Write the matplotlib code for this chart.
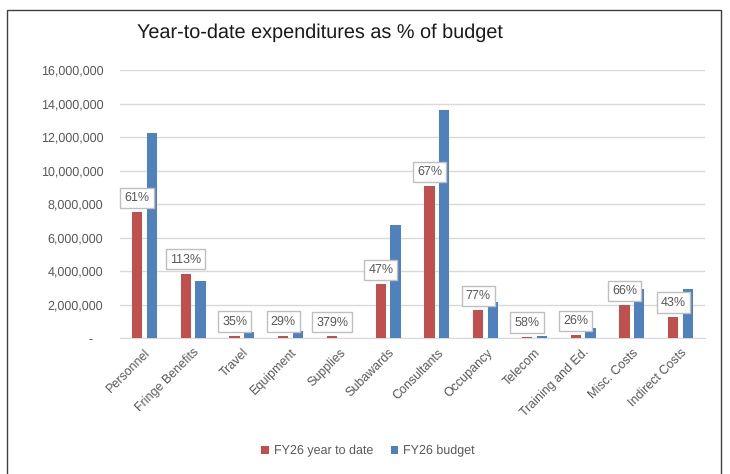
import matplotlib
matplotlib.use("Agg")
import matplotlib.pyplot as plt
from matplotlib.patches import Rectangle
from matplotlib.ticker import FuncFormatter, MultipleLocator
import numpy as np

categories = ["Personnel", "Fringe Benefits", "Travel", "Equipment", "Supplies",
              "Subawards", "Consultants", "Occupancy", "Telecom",
              "Training and Ed.", "Misc. Costs", "Indirect Costs"]
ytd = [7500000, 3850000, 120000, 120000, 90000, 3200000, 9060000, 1650000,
       70000, 160000, 1950000, 1250000]
budget = [12250000, 3400000, 340000, 420000, 24000, 6750000, 13600000, 2130000,
          120000, 600000, 2950000, 2900000]
pct_labels = ["61%", "113%", "35%", "29%", "379%", "47%", "67%", "77%",
              "58%", "26%", "66%", "43%"]

RED = "#C0504D"
BLUE = "#4F81BD"
GRID = "#D9D9D9"
TXT = "#595959"

plt.rcParams['font.family'] = ['Liberation Sans', 'DejaVu Sans']
plt.rcParams['text.hinting'] = 'no_hinting'

fig = plt.figure(figsize=(7.30, 4.74), dpi=100)
ax = fig.add_axes([120/730, 1-338/474, 585/730, 268/474])

x = np.arange(len(categories))
w = 0.21
off = 0.15
ax.bar(x - off, ytd, w, color=RED, label="FY26 year to date", zorder=3)
ax.bar(x + off, budget, w, color=BLUE, label="FY26 budget", zorder=3)

for xi, v, lab in zip(x, ytd, pct_labels):
    ax.annotate(lab, (xi - off, v), xytext=(0, 6), textcoords="offset points",
                ha="center", va="bottom", fontsize=9, color=TXT, zorder=5,
                bbox=dict(boxstyle="square,pad=0.33", fc="white", ec="#BFBFBF", lw=1))

ax.set_xlim(-0.5, len(categories) - 0.5)
ax.set_ylim(0, 16000000)
ax.yaxis.set_major_locator(MultipleLocator(2000000))
ax.yaxis.set_major_formatter(FuncFormatter(lambda v, p: "-   " if v == 0 else f"{v:,.0f}"))
ax.grid(axis="y", color=GRID, lw=1, zorder=0)
ax.set_axisbelow(True)
for s in ["top", "right", "left"]:
    ax.spines[s].set_visible(False)
ax.spines["bottom"].set_color(GRID)
ax.tick_params(axis="y", length=0, pad=12, labelsize=9, labelcolor=TXT)
ax.tick_params(axis="x", length=0, pad=6, labelsize=9, labelcolor=TXT)
ax.set_xticks(x)
ax.set_xticklabels(categories, rotation=45, ha="right", va="top", rotation_mode="anchor")

fig.text(137/730, 1-33/474, "Year-to-date expenditures as % of budget",
         fontsize=14.3, color="#1a1a1a", ha="left", va="center")

leg = fig.legend(loc="center", bbox_to_anchor=(368/730, 1-451/474), ncol=2,
                 frameon=False, fontsize=9, handlelength=0.6, handleheight=0.6,
                 handletextpad=0.4, columnspacing=1.4, labelcolor=TXT)

fig.patches.append(Rectangle((7/730, -0.01), 714/730, 1 - 10/474 + 0.01,
                             transform=fig.transFigure, fill=False,
                             ec="#404040", lw=1))

fig.savefig("out.png", dpi=100)
